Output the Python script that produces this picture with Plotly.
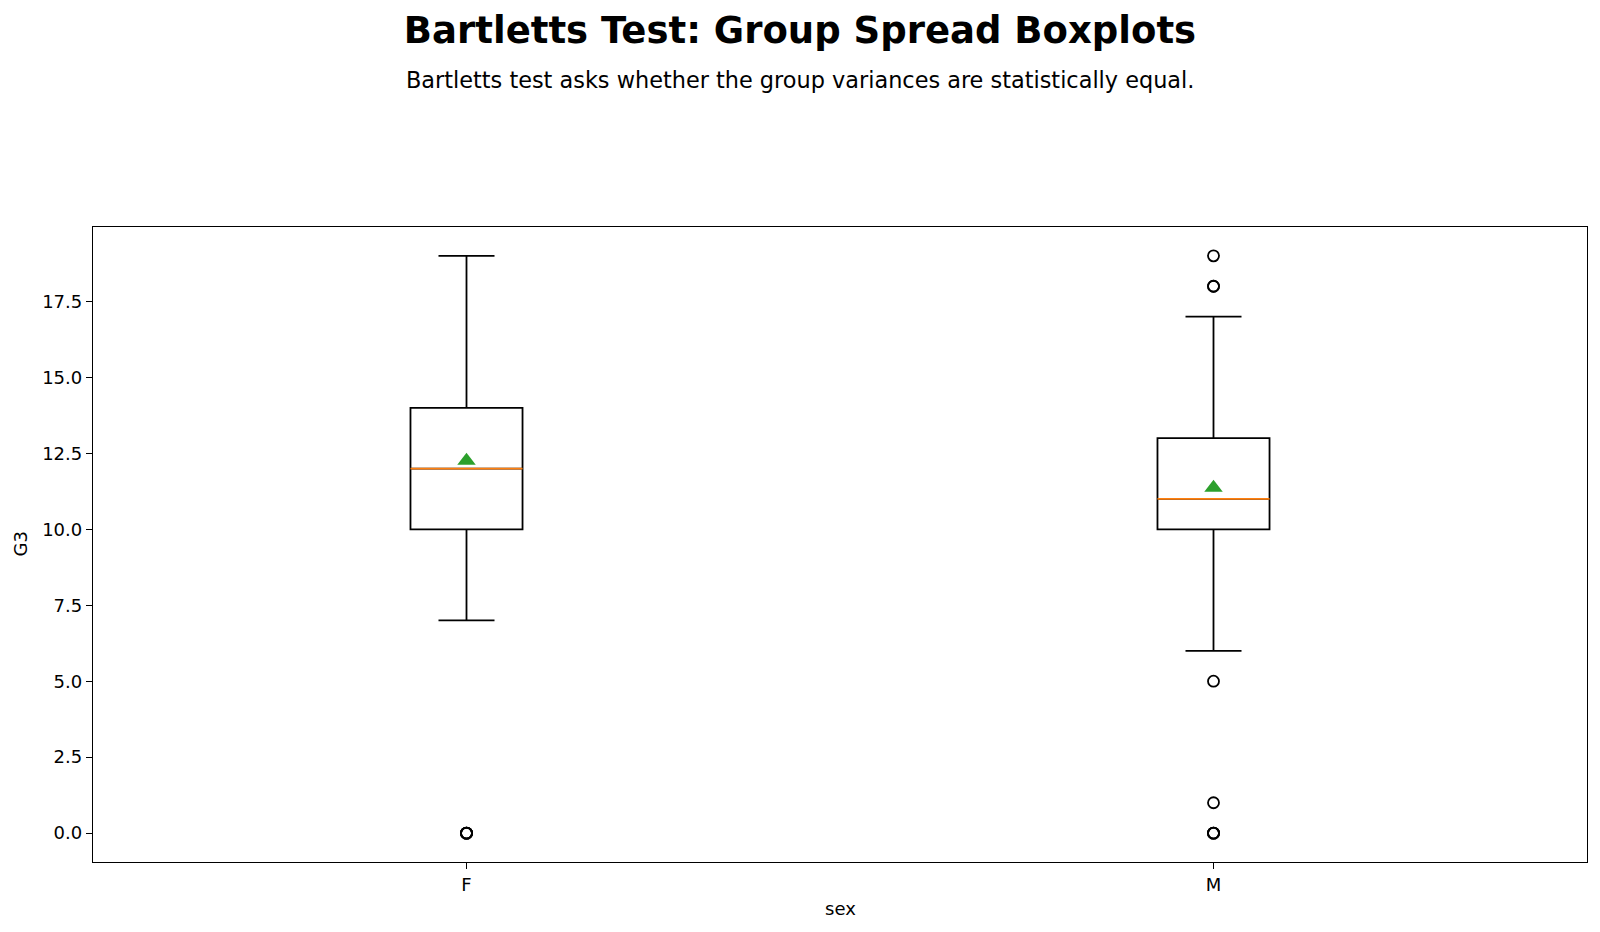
import plotly.graph_objects as go

groups = ["F", "M"]
positions = [1, 2]
q1 = [10, 10]
medians = [12, 11]
q3 = [14, 13]
lower_whisker = [7, 6]
upper_whisker = [19, 17]
means = [12.26, 11.37]
outliers_F = [0, 0, 0, 0]
outliers_M = [19, 18, 18, 5, 1, 0, 0, 0]
y_ticks = [0.0, 2.5, 5.0, 7.5, 10.0, 12.5, 15.0, 17.5]

box_width = 0.15
lw = 1.8
font = "DejaVu Sans"

fig = go.Figure()
for i, g in enumerate(groups):
    fig.add_trace(go.Box(
        x=[positions[i]], q1=[q1[i]], median=[medians[i]], q3=[q3[i]],
        lowerfence=[lower_whisker[i]], upperfence=[upper_whisker[i]],
        boxpoints=False, width=box_width, whiskerwidth=0.5,
        fillcolor="rgba(0,0,0,0)", line=dict(color="black", width=lw),
        showlegend=False, hoverinfo="skip", name=g))
    fig.add_trace(go.Scatter(
        x=[positions[i] - box_width / 2, positions[i] + box_width / 2],
        y=[medians[i], medians[i]], mode="lines",
        line=dict(color="#ff7f0e", width=lw), showlegend=False))

for pos, outs in zip(positions, [outliers_F, outliers_M]):
    fig.add_trace(go.Scatter(
        x=[pos] * len(outs), y=outs, mode="markers",
        marker=dict(symbol="circle-open", size=11, color="black", line=dict(width=1.8)),
        showlegend=False))

fig.add_trace(go.Scatter(
    x=positions, y=means, mode="markers",
    marker=dict(symbol="triangle-up", size=16, color="#2ca02c", line=dict(width=0)),
    showlegend=False))

fig.update_layout(
    width=1600, height=932,
    margin=dict(l=93, r=13, t=227, b=70),
    plot_bgcolor="white", paper_bgcolor="white",
    font=dict(family=font, size=18, color="black"),
    title=dict(text="<b>Bartletts Test: Group Spread Boxplots</b>", x=0.5, xanchor="center",
               xref="container", y=1 - 30 / 932, yanchor="middle", yref="container",
               font=dict(family=font, size=37, color="black")),
    xaxis=dict(range=[0.5, 2.5], tickvals=positions, ticktext=groups,
               showline=True, linecolor="black", linewidth=1.3, mirror=True,
               ticks="outside", ticklen=6, tickwidth=1.3, tickcolor="black",
               showgrid=False, zeroline=False, tickfont=dict(size=18)),
    yaxis=dict(range=[-0.95, 19.95], tickvals=y_ticks, tickformat=".1f",
               showline=True, linecolor="black", linewidth=1.3, mirror=True,
               ticks="outside", ticklen=6, tickwidth=1.3, tickcolor="black",
               showgrid=False, zeroline=False, tickfont=dict(size=18)),
    annotations=[
        dict(text="Bartletts test asks whether the group variances are statistically equal.",
             xref="paper", yref="paper", x=(800 - 93) / 1494, y=(862 - 80) / 635,
             xanchor="center", yanchor="middle", showarrow=False, font=dict(size=22.4)),
        dict(text="sex", xref="paper", yref="paper", x=0.5, y=(862 - 908) / 635,
             xanchor="center", yanchor="middle", showarrow=False, font=dict(size=18)),
        dict(text="G3", xref="paper", yref="paper", x=(20 - 93) / 1494, y=0.5,
             xanchor="center", yanchor="middle", showarrow=False, textangle=-90,
             font=dict(size=18)),
    ],
)

fig.write_html("out.html")
